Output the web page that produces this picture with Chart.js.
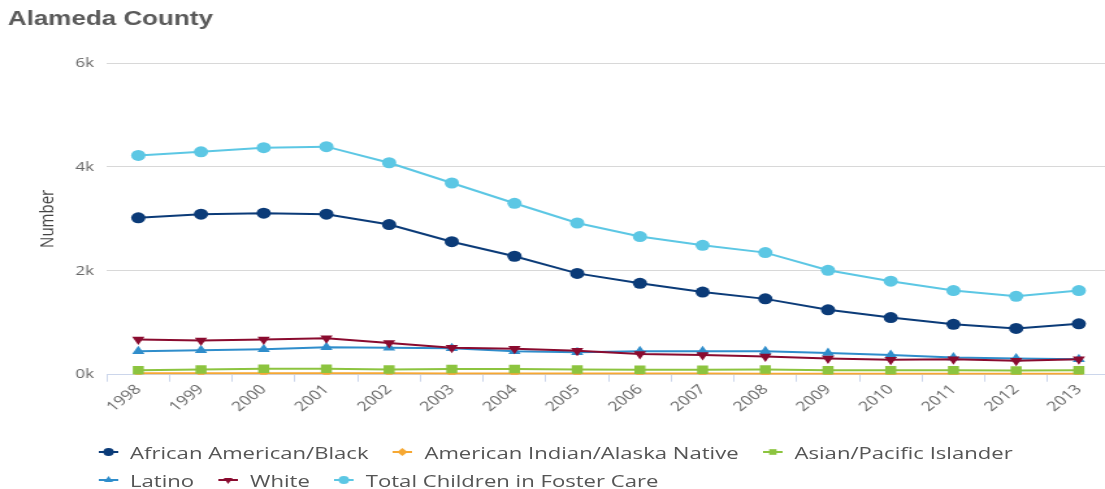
<!DOCTYPE html>
<html>
<head>
<meta charset="utf-8">
<title>Alameda County</title>
<script src="https://cdn.jsdelivr.net/npm/chart.js@4.4.0/dist/chart.umd.min.js"></script>
<style>
    html, body { margin: 0; padding: 0; background: #fff; width: 1105px; height: 489px; overflow: hidden; }
    /* the whole chart is drawn narrow and stretched sideways */
    #wrap { position: absolute; left: 0; top: 0; width: 860px; height: 489px; transform: scaleX(1.3); transform-origin: 0 0; }
    #legend { position: absolute; left: 76px; top: 438px; width: 770px; display: flex; flex-wrap: wrap;
              font: 17px "Open Sans", sans-serif; color: #555; }
    #legend .item { display: flex; align-items: center; height: 28px; margin-right: 19px; white-space: nowrap; }
    #legend .item canvas { margin-right: 9px; }
</style>
</head>
<body>
<div id="wrap">
    <canvas id="chart" width="860" height="489"></canvas>
    <div id="legend"></div>
</div>
<script>
var years = ['1998', '1999', '2000', '2001', '2002', '2003', '2004', '2005',
             '2006', '2007', '2008', '2009', '2010', '2011', '2012', '2013'];

var black  = [3020, 3090, 3110, 3090, 2890, 2560, 2280, 1950, 1760, 1590, 1460, 1250, 1100, 970, 890, 980];
var amInd  = [30, 30, 30, 30, 30, 25, 25, 25, 25, 25, 20, 20, 20, 20, 20, 20];
var asian  = [85, 100, 115, 115, 100, 110, 110, 100, 95, 95, 100, 85, 85, 85, 80, 85];
var latino = [450, 470, 490, 530, 520, 510, 450, 430, 450, 450, 450, 420, 380, 330, 310, 300];
var white  = [680, 660, 680, 700, 610, 520, 500, 460, 400, 380, 350, 310, 290, 300, 270, 300];
var total  = [4220, 4290, 4370, 4390, 4080, 3690, 3300, 2920, 2660, 2490, 2350, 2010, 1800, 1620, 1510, 1620];

var yTicks = [0, 2000, 4000, 6000];

function series(label, data, color, style, rotation, radius, order) {
    return {
        label: label,
        data: data,
        borderColor: color,
        backgroundColor: color,
        borderWidth: 2,
        pointStyle: style,
        rotation: rotation,
        pointRadius: radius,
        pointHoverRadius: radius,
        pointBorderWidth: 0,
        tension: 0,
        order: order
    };
}

var datasets = [
    series('African American/Black', black, '#0b3b78', 'circle', 0, 5.5, 6),
    series('American Indian/Alaska Native', amInd, '#f6a833', 'rectRot', 0, 4, 5),
    series('Asian/Pacific Islander', asian, '#8cc43f', 'rect', 0, 6, 4),
    series('Latino', latino, '#2f8dcb', 'triangle', 0, 5.5, 3),
    series('White', white, '#8a0b2f', 'triangle', 180, 5.5, 2),
    series('Total Children in Foster Care', total, '#5cc7e4', 'circle', 0, 5.5, 1)
];

var ctx = document.getElementById('chart').getContext('2d');

var chart = new Chart(ctx, {
    type: 'line',
    data: { labels: years, datasets: datasets },
    options: {
        responsive: false,
        animation: false,
        layout: { padding: { left: 6, right: 2, top: 0, bottom: 74 } },
        plugins: {
            legend: { display: false },
            tooltip: { enabled: false },
            title: {
                display: true,
                text: 'Alameda County',
                align: 'start',
                color: '#5a5a5a',
                font: { family: '"Liberation Sans", Arial, sans-serif', size: 20, weight: 'bold' },
                padding: { top: 7, bottom: 32 }
            }
        },
        scales: {
            x: {
                offset: true,
                grid: {
                    offset: true,
                    drawOnChartArea: false,
                    drawTicks: true,
                    tickLength: 7,
                    color: '#ccd6eb'
                },
                border: { display: true, color: '#ccd6eb', width: 1 },
                ticks: {
                    autoSkip: false,
                    maxRotation: 45,
                    minRotation: 45,
                    padding: 0,
                    color: '#666',
                    font: { family: '"Open Sans", sans-serif', size: 13.5 }
                }
            },
            y: {
                min: 0,
                max: 6000,
                afterBuildTicks: function (axis) {
                    axis.ticks = yTicks.map(function (v) { return { value: v }; });
                },
                grid: { color: '#d8d8d8', drawTicks: false, lineWidth: 1 },
                border: { display: false },
                ticks: {
                    padding: 10,
                    color: '#666',
                    font: { family: '"Open Sans", sans-serif', size: 13 },
                    callback: function (v) { return (v / 1000) + 'k'; }
                },
                title: {
                    display: true,
                    text: 'Number',
                    color: '#444',
                    font: { family: '"Open Sans", sans-serif', size: 15 },
                    padding: { top: 22, bottom: 2 }
                }
            }
        }
    }
});

// legend built from the datasets, each key a short line with its marker
var legendEl = document.getElementById('legend');
chart.data.datasets.forEach(function (ds) {
    var item = document.createElement('div');
    item.className = 'item';
    var key = document.createElement('canvas');
    key.width = 15;
    key.height = 12;
    var k = key.getContext('2d');
    k.strokeStyle = ds.borderColor;
    k.fillStyle = ds.backgroundColor;
    k.lineWidth = 2;
    k.beginPath();
    k.moveTo(0, 6);
    k.lineTo(15, 6);
    k.stroke();
    Chart.helpers.drawPoint(k, { pointStyle: ds.pointStyle, rotation: ds.rotation, radius: 4, borderWidth: 0 }, 7.5, 6);
    var text = document.createElement('span');
    text.textContent = ds.label;
    item.appendChild(key);
    item.appendChild(text);
    legendEl.appendChild(item);
});
</script>
</body>
</html>
